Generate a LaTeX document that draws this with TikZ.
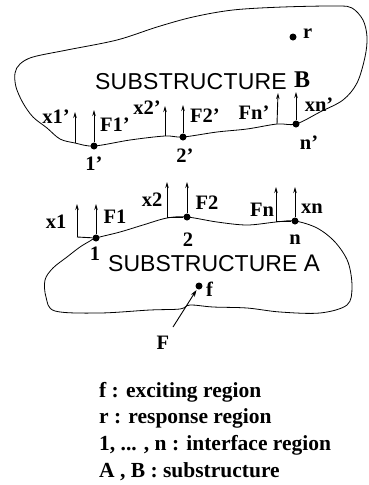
\documentclass[tikz,border=0pt]{standalone}
\usepackage{fontspec}
\setmainfont{Liberation Serif}
\setsansfont{Liberation Sans}
\usetikzlibrary{arrows.meta}

\tikzset{
  outline/.style={line width=0.8pt, line join=round},
  dot/.style={circle, fill, inner sep=0pt, minimum size=7pt},
  force/.style={line width=0.9pt, -{Stealth[length=6pt,width=3.5pt]}},
  link/.style={line width=0.9pt},
  lbl/.style={font=\bfseries\fontsize{20.5}{20.5}\selectfont, inner sep=0pt},
  title/.style={font=\sffamily\fontsize{23}{23}\selectfont, inner sep=0pt},
  legend/.style={font=\bfseries\fontsize{21.5}{21.5}\selectfont, anchor=west, inner sep=0pt},
}

\begin{document}
\begin{tikzpicture}[x=1pt,y=-1pt]
\useasboundingbox (0,0) rectangle (369,485);

% ---------- substructure B ----------
\draw[outline] plot[smooth cycle, tension=0.55] coordinates {
  (94,146) (75,143) (60,139) (47,128) (33,117) (23,103) (16,87) (15,73)
  (20,64) (33,57) (67,50) (117,40) (157,27) (193,17) (233,10) (283,7)
  (337,6) (352,8) (363,20) (367,37) (365,57) (357,83) (343,100) (320,112)
  (296,124) (277,124) (247,129) (217,132) (183,137) (165,136) (130,140)
};

\node[dot] (b1) at (94,146) {};
\node[dot] (b2) at (183,137) {};
\node[dot] (bn) at (296,124) {};
\node[dot] (r)  at (293,37) {};
\node[lbl, anchor=west] (rlab) at (303,34) {r};

\coordinate (bx1) at (75,143);
\coordinate (bx2) at (165,136);
\coordinate (bFn) at (277,124);
\coordinate (bx1t) at (75,112);
\coordinate (bF1t) at (94,110);
\coordinate (bx2t) at (165,106);
\coordinate (bF2t) at (183,105);
\coordinate (bFnt) at (278,93);
\coordinate (bxnt) at (296,92);

\draw[force] (bx1) -- (bx1t);
\draw[force] (b1) -- (bF1t);
\draw[force] (bx2) -- (bx2t);
\draw[force] (b2) -- (bF2t);
\draw[force] (bFn) -- (bFnt);
\draw[force] (bn) -- (bxnt);

\node[lbl] (lx1b) at (56,117) {x1'};
\node[lbl] (lF1b) at (115,125) {F1'};
\node[lbl] (lx2b) at (147,108) {x2'};
\node[lbl] (lF2b) at (205,116) {F2'};
\node[lbl] (lFnb) at (254,113) {Fn'};
\node[lbl] (lxnb) at (319,105) {xn'};
\node[lbl] (l1b) at (94,164) {1'};
\node[lbl] (l2b) at (185,156) {2'};
\node[lbl] (lnb) at (309,143) {n'};

\node[title, anchor=base west] (tB) at (95,89)
  {\addfontfeatures{LetterSpace=1}SUBSTRUCTURE};
\node[anchor=base west, inner sep=0pt, font=\bfseries\fontsize{24}{24}\selectfont]
  (tBl) at (294,87) {B};

% ---------- substructure A ----------
\draw[outline] plot[smooth cycle, tension=0.55] coordinates {
  (96,238) (120,232) (143,225) (167,218) (187,217) (217,222) (247,225)
  (276,222) (295,221) (317,228) (335,242) (348,262) (352,287) (347,305)
  (320,313) (280,312) (247,308) (213,307) (190,305) (180,309) (150,310)
  (100,313) (55,311) (46,297) (45,280) (53,268) (67,257) (80,247) (90,241)
};

\node[dot] (a1) at (96,238) {};
\node[dot] (a2) at (187,217) {};
\node[dot] (an) at (295,221) {};
\node[dot] (f)  at (199,286) {};
\node[lbl, anchor=west] (flab) at (206,289) {f};

\coordinate (ax1) at (77,237);
\coordinate (ax2) at (167,217);
\coordinate (aFn) at (276,221);
\coordinate (ax1t) at (77,204);
\coordinate (aF1t) at (96,204);
\coordinate (ax2t) at (167,182);
\coordinate (aF2t) at (187,182);
\coordinate (aFnt) at (276,187);
\coordinate (axnt) at (295,187);

\draw[link] (ax1) -- (a1);
\draw[link] (ax2) -- (a2);
\draw[link] (aFn) -- (an);
\draw[force] (ax1) -- (ax1t);
\draw[force] (a1) -- (aF1t);
\draw[force] (ax2) -- (ax2t);
\draw[force] (a2) -- (aF2t);
\draw[force] (aFn) -- (aFnt);
\draw[force] (an) -- (axnt);

\node[lbl] (lx1a) at (56,222) {x1};
\node[lbl] (lF1a) at (115,217) {F1};
\node[lbl] (lx2a) at (152,200) {x2};
\node[lbl] (lF2a) at (207,203) {F2};
\node[lbl] (lFna) at (262,210) {Fn};
\node[lbl] (lxna) at (312,209) {xn};
\node[lbl] (l1a) at (95,254) {1};
\node[lbl] (l2a) at (188,240) {2};
\node[lbl] (lna) at (295,240) {n};

\node[title] (tA) at (214,263) {SUBSTRUCTURE {\fontsize{24}{24}\selectfont A}};

% external excitation
\node[lbl] (Flab) at (163,343) {F};
\coordinate (Ftail) at (173,327);
\draw[line width=0.9pt, -{Stealth[length=7pt,width=4.5pt]}, shorten >=1pt] (Ftail) -- (f);

% ---------- legend ----------
\node[legend] (k1) at (99,392) {f : exciting region};
\node[legend] (k2) at (99,418) {r : response region};
\node[legend] (k3) at (99,445) {1, ... , n : interface region};
\node[legend] (k4) at (99,472) {A , B : substructure};
\end{tikzpicture}
\end{document}
